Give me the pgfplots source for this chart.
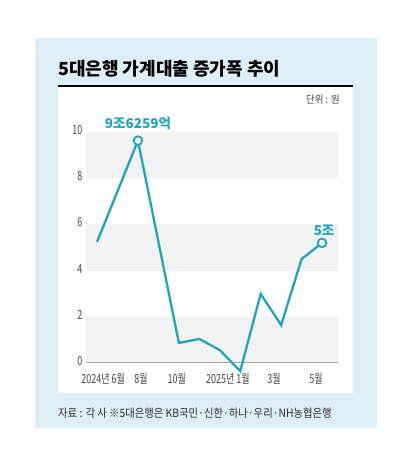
\documentclass[border=0pt]{standalone}
\usepackage{fontspec}
\usepackage{pgfplots}
\pgfplotsset{compat=1.18}
\setmainfont{Noto Sans CJK KR}
\newfontfamily\cond[FakeStretch=0.72]{Noto Sans CJK KR}
\newfontfamily\semicond[FakeStretch=0.9]{Noto Sans CJK KR}
\definecolor{lineteal}{RGB}{32,166,188}
\definecolor{panelblue}{RGB}{221,238,245}
\definecolor{band}{RGB}{242,242,242}
\definecolor{ticktext}{RGB}{70,70,70}
\definecolor{bodytext}{RGB}{45,45,45}

\begin{document}
\begin{tikzpicture}[x=1pt,y=1pt]
\useasboundingbox (0,0) rectangle (414,462);
\fill[white] (0,0) rectangle (414,462);
\fill[panelblue] (35,34) rectangle (377,424);
\fill[white] (58,69) rectangle (353,375);
\draw[black, line width=2.3pt] (58,376) -- (353,376);
\node[anchor=base west, inner sep=0pt, font=\bfseries\fontsize{18}{20}\selectfont, text=black]
  at (58,386) {5대은행 가계대출 증가폭 추이};
\node[anchor=east, inner sep=0pt, font=\semicond\fontsize{10.5}{12}\selectfont, text=ticktext]
  at (340,362) {단위 : 원};
\node[anchor=west, inner sep=0pt, font=\semicond\fontsize{11.5}{13}\selectfont, text=bodytext]
  at (58,49) {자료 : 각 사 ※5대은행은 KB국민·신한·하나·우리·NH농협은행};

\begin{axis}[
  at={(86pt,99pt)}, anchor=south west,
  width=252pt, height=231pt, scale only axis,
  xmin=-0.54, xmax=11.78, ymin=0, ymax=10,
  clip=false,
  axis line style={draw=none},
  tick style={draw=none},
  /pgf/number format/assume math mode=true,
  ytick={0,2,4,6,8,10},
  xtick={0.3,2.15,3.9,6.4,8.65,10.7},
  xticklabels={2024년 6월,8월,10월,2025년 1월,3월,5월},
  tick label style={font=\cond\fontsize{12.5}{13}\selectfont, text=ticktext},
  xticklabel style={anchor=base, yshift=-21pt},
  yticklabel style={anchor=east, yshift=2pt},
]
\fill[band] (-0.54,8) rectangle (11.78,10);
\fill[band] (-0.54,4) rectangle (11.78,6);
\fill[band] (-0.54,0) rectangle (11.78,2);
\draw[gray!70, line width=1pt] (-0.54,0) -- (11.78,0);

\addplot[lineteal, line width=2.3pt, line join=miter] coordinates {
  (0,5.24) (2,9.6259) (4,0.87) (5,1.04) (6,0.56) (7,-0.35)
  (8,2.99) (9,1.64) (10,4.5) (11,5.2)
};
\addplot[only marks, mark=*, mark size=4.3pt,
  mark options={draw=lineteal, fill=white, line width=1.9pt}]
  coordinates {(2,9.6259) (11,5.2)};

\node[text=lineteal, font=\bfseries\fontsize{13.5}{14}\selectfont, inner sep=0pt]
  at (2.0,10.35) {9조6259억};
\node[text=lineteal, font=\bfseries\fontsize{13.5}{14}\selectfont, inner sep=0pt]
  at (11.1,5.76) {5조};
\end{axis}
\end{tikzpicture}
\end{document}
